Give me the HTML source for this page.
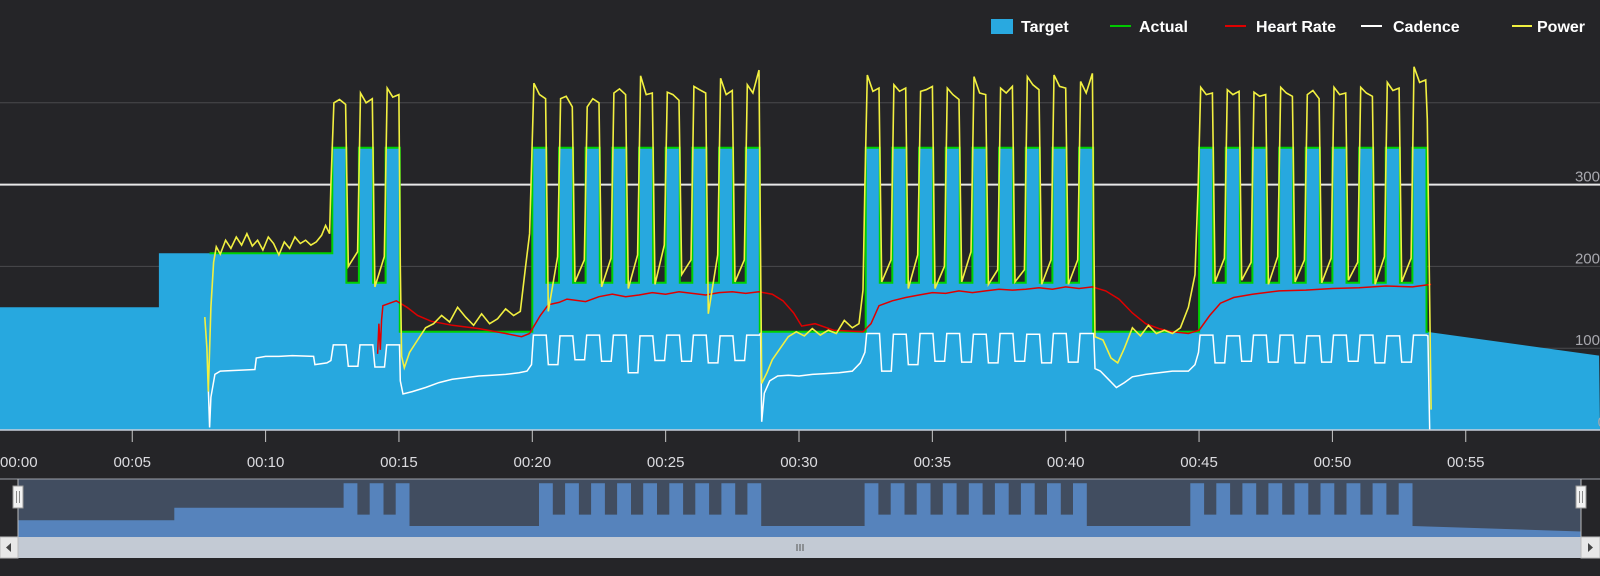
<!DOCTYPE html>
<html><head><meta charset="utf-8"><style>
html,body{margin:0;padding:0;background:#252528;}
svg{display:block;font-family:"Liberation Sans",sans-serif;}
</style></head><body>
<svg id="chart" width="1600" height="576" viewBox="0 0 1600 576" xmlns="http://www.w3.org/2000/svg">
<rect x="0" y="0" width="1600" height="576" fill="#252528"/>
<g id="grid"></g>
<g id="series"></g>
<g id="axes"></g>
<g id="legend">
  <rect x="991" y="19" width="22" height="15" fill="#29a9e0"/>
  <text x="1021" y="32" fill="#fff" font-size="16" font-weight="bold">Target</text>
  <line x1="1110" y1="26" x2="1131" y2="26" stroke="#00c800" stroke-width="2"/>
  <text x="1139" y="32" fill="#fff" font-size="16" font-weight="bold">Actual</text>
  <line x1="1225" y1="26" x2="1246" y2="26" stroke="#e00000" stroke-width="2"/>
  <text x="1256" y="32" fill="#fff" font-size="16" font-weight="bold">Heart Rate</text>
  <line x1="1361" y1="26" x2="1382" y2="26" stroke="#ffffff" stroke-width="2"/>
  <text x="1393" y="32" fill="#fff" font-size="16" font-weight="bold">Cadence</text>
  <line x1="1512" y1="26" x2="1532" y2="26" stroke="#f0f040" stroke-width="2"/>
  <text x="1537" y="32" fill="#fff" font-size="16" font-weight="bold">Power</text>
</g>
<g id="nav"></g>
</svg>
<script>
// ---- data ----
const blockStarts = [12.5, 20, 32.5, 45];
const blockReps = [3, 9, 9, 9];
const onLevel = 345, offLevel = 180, recLevel = 120;
const warmupSteps = [[0,150],[6,216]];
const endRamp = [[53.53,120],[60,91]];
const onDur = 0.53;

const b1Peaks = [[400,404,398],[412,400,405],[418,407,410]];
const b1Low = [200,175];
const b1Pre = [218,212];
const b2Peaks = [[424,410,405],[405,408,395],[395,405,400],[412,417,410],[433,410,412],[413,410,403],[420,416,412],[430,410,415],[422,412,440]];
const b2Low = [145,181,175,173,178,190,142,181];
const b2Pre = [212,208,210,214,226,208,214,208];
const b3Peaks = [[434,414,418],[422,414,418],[414,416,420],[418,410,404],[432,412,410],[418,412,420],[432,422,416],[434,420,418],[426,412,436]];
const b3Low = [181,173,173,181,178,181,178,178];
const b3Pre = [208,214,200,218,196,196,208,208];
const b4Peaks = [[419,410,412],[416,410,414],[413,408,410],[419,412,408],[410,415,405],[419,410,412],[419,412,408],[425,415,418],[444,425,428]];
const b4Low = [181,183,178,181,180,183,178,181];
const b4Pre = [210,205,212,208,210,205,212,210];

const powerWarm = [[7.72,138],[7.8,100],[7.85,47],[7.95,150],[8.05,205],[8.15,224],[8.3,215],[8.5,232],[8.7,222],[8.9,236],[9.1,226],[9.3,240],[9.5,225],[9.7,232],[9.9,220],[10.1,236],[10.3,228],[10.5,214],[10.7,230],[10.9,222],[11.1,236],[11.3,228],[11.5,232],[11.7,226],[11.9,230],[12.1,238],[12.25,250],[12.4,240],[12.45,300]];
const powerRec1 = [[15.05,200],[15.1,90],[15.2,76],[15.4,95],[15.7,110],[16,125],[16.3,130],[16.6,140],[16.9,132],[17.2,150],[17.5,138],[17.8,128],[18.1,142],[18.4,130],[18.7,136],[19,148],[19.3,140],[19.55,145],[19.75,200],[19.9,240]];
const powerRec2 = [[28.55,250],[28.6,57],[28.8,70],[29,86],[29.3,100],[29.6,114],[29.9,120],[30.2,115],[30.5,124],[30.8,116],[31.1,122],[31.4,118],[31.7,134],[32,125],[32.25,130],[32.4,171],[32.47,300]];
const powerRec3 = [[41.05,250],[41.1,114],[41.4,110],[41.7,88],[41.95,82],[42.2,100],[42.5,125],[42.8,115],[43.1,128],[43.4,118],[43.7,122],[44,118],[44.3,125],[44.6,150],[44.85,190],[44.97,300]];
const powerEnd = [[53.56,380],[53.7,25]];

const b1CadH = [104,104,104]; const b1CadL = [78,77];
const b2CadH = [116,115,116,116,115,116,116,115,116]; const b2CadL = [80,86,84,70,85,84,82,85];
const b3CadH = [118,117,118,118,117,118,117,118,118]; const b3CadL = [72,80,84,83,82,84,82,83];
const b4CadH = [116,115,116,116,115,116,116,115,116]; const b4CadL = [82,84,83,82,83,84,82,83];
const cadWarm = [[7.85,52],[7.9,3],[7.95,40],[8.1,68],[8.3,72],[9,73],[9.6,74],[9.65,88],[10,90],[10.5,90],[11,91],[11.8,90],[11.85,80],[12.3,82],[12.45,85]];
const cadRec1 = [[15.05,60],[15.15,44],[15.5,47],[16,52],[16.5,58],[17,62],[17.5,64],[18,66],[18.5,67],[19,68],[19.5,70],[19.8,72],[19.97,80]];
const cadRec2 = [[28.56,118],[28.6,10],[28.7,45],[28.9,60],[29.2,66],[29.6,67],[30,66],[30.5,68],[31,69],[31.5,70],[32,72],[32.3,82],[32.47,95]];
const cadRec3 = [[41.05,118],[41.1,75],[41.3,72],[41.6,62],[41.9,52],[42.2,58],[42.5,65],[43,68],[43.5,70],[44,72],[44.6,72],[44.85,80],[44.98,95]];
const cadEnd = [[53.58,115],[53.65,0]];

const heartRate = [[14.2,93],[14.25,130],[14.3,98],[14.35,135],[14.4,152],[14.9,158],[15.3,150],[15.7,140],[16.2,133],[17,128],[18,124],[19,118],[19.6,114],[19.9,118],[20.3,140],[20.6,153],[21,156],[21.3,160],[22,157],[22.5,163],[23,166],[23.5,163],[24,165],[24.5,168],[25,166],[25.5,169],[26,167],[26.5,165],[27,168],[27.5,169],[28,167],[28.5,169],[29,166],[29.4,158],[29.8,143],[30.1,127],[30.6,130],[31.3,122],[32.4,120],[32.7,130],[33,152],[33.5,158],[34,162],[34.5,165],[35,168],[35.5,167],[36,170],[36.5,168],[37,170],[37.5,172],[38,171],[38.5,172],[39,174],[39.5,172],[40,175],[40.5,173],[41,175],[41.5,170],[42,160],[42.5,143],[43,130],[43.5,124],[44,120],[44.6,118],[45,122],[45.4,140],[45.8,155],[46.3,162],[47,166],[48,170],[49,171],[50,173],[51,174],[52,176],[53,175],[53.7,178]];

const xTicks = [0,5,10,15,20,25,30,35,40,45,50,55];
const xTickLabels = ["00:00","00:05","00:10","00:15","00:20","00:25","00:30","00:35","00:40","00:45","00:50","00:55"];
const yTicks = [0,100,200,300,400];
const yTickLabels = ["0","100","200","300",""];

// ---- scales ----
function X(t){return -1.1 + 26.67*t;}
function Y(v){return 430 - 0.818*v;}
function NX(t){return 18 + t*26.05;}
function NY(v){return 526 + (120 - v)*0.19;}

const NS = "http://www.w3.org/2000/svg";
function mk(tag, attrs, parent){const e=document.createElementNS(NS,tag);for(const k in attrs)e.setAttribute(k,attrs[k]);parent.appendChild(e);return e;}

// target steps
function targetSteps(){
  const s = warmupSteps.map(p=>p.slice());
  blockStarts.forEach((b,i)=>{
    for(let k=0;k<blockReps[i];k++){
      s.push([b+k,onLevel]);
      if(k<blockReps[i]-1) s.push([b+k+onDur,offLevel]);
    }
    s.push([b+blockReps[i]-1+onDur,recLevel]);
  });
  s.pop();
  return s;
}
const steps = targetSteps();
function stepPoints(fx,fy,startT){
  const pts=[];
  for(let i=0;i<steps.length;i++){
    const t0=Math.max(steps[i][0],startT||0);
    const t1=i<steps.length-1?steps[i+1][0]:endRamp[0][0];
    if(t1<=t0) continue;
    pts.push([fx(t0),fy(steps[i][1])],[fx(t1),fy(steps[i][1])]);
  }
  endRamp.forEach(p=>pts.push([fx(p[0]),fy(p[1])]));
  return pts;
}

function blockPower(start, peaks, lows, pres, prev){
  const pts=[];
  for(let k=0;k<peaks.length;k++){
    const r=start+k;
    pts.push([r+0.06,peaks[k][0]],[r+0.27,peaks[k][1]],[r+0.5,peaks[k][2]]);
    if(k<peaks.length-1) pts.push([r+0.6,lows[k]],[r+0.95,pres[k]]);
  }
  return pts;
}
function blockCad(start, hs, ls){
  const pts=[];
  for(let k=0;k<hs.length;k++){
    const r=start+k;
    pts.push([r+0.04,hs[k]],[r+0.52,hs[k]]);
    if(k<hs.length-1) pts.push([r+0.6,ls[k]],[r+0.96,ls[k]]);
  }
  return pts;
}
const powerAll = [].concat(powerWarm, blockPower(12.5,b1Peaks,b1Low,b1Pre), powerRec1, blockPower(20,b2Peaks,b2Low,b2Pre), powerRec2, blockPower(32.5,b3Peaks,b3Low,b3Pre), powerRec3, blockPower(45,b4Peaks,b4Low,b4Pre), powerEnd);
const cadAll = [].concat(cadWarm, blockCad(12.5,b1CadH,b1CadL), cadRec1, blockCad(20,b2CadH,b2CadL), cadRec2, blockCad(32.5,b3CadH,b3CadL), cadRec3, blockCad(45,b4CadH,b4CadL), cadEnd);

function toPath(data){return data.map((p,i)=>(i?'L':'M')+X(p[0]).toFixed(1)+' '+Y(p[1]).toFixed(1)).join(' ');}

// grid
const grid=document.getElementById('grid');
yTicks.forEach((v,i)=>{
  if(v===0) return;
  const l=mk('line',{x1:0,x2:1600,y1:Y(v),y2:Y(v),stroke:v===300?'#e8e8e8':'#4a4a4c','stroke-width':v===300?2:1},grid);
  
  
});

// series
const ser=document.getElementById('series');
const tp=stepPoints(X,Y,0);
const tgt=mk('path',{d:'M'+X(0)+' '+Y(0)+' '+tp.map(p=>'L'+p[0].toFixed(1)+' '+p[1].toFixed(1)).join(' ')+' L1600 '+Y(0)+' Z',fill:'#27a8df'},ser);


const ap=stepPoints(X,Y,7.9).filter(p=>p[0]<=X(53.6));
const act=mk('path',{d:ap.map((p,i)=>(i?'L':'M')+p[0].toFixed(1)+' '+p[1].toFixed(1)).join(' ')+' L'+X(53.6)+' '+Y(120),fill:'none',stroke:'#00d000','stroke-width':2},ser);


const cad=mk('path',{d:toPath(cadAll),fill:'none',stroke:'#ffffff','stroke-width':1.5},ser);


const hr=mk('path',{d:toPath(heartRate),fill:'none',stroke:'#e00000','stroke-width':1.5},ser);


const pw=mk('path',{d:toPath(powerAll),fill:'none',stroke:'#f2f040','stroke-width':1.6},ser);



// axes
const ax=document.getElementById('axes');
const al=mk('line',{x1:0,x2:1600,y1:430,y2:430,stroke:'#c8d0dc','stroke-width':1.5},ax);


xTicks.forEach((t,i)=>{
  const tk=mk('line',{x1:X(t),x2:X(t),y1:430,y2:442,stroke:'#c8c8c8'},ax);
  
  
  const lb=mk('text',{x:i===0?0:X(t),y:467,fill:'#dcdce0','font-size':15,'text-anchor':i===0?'start':'middle'},ax);
  lb.textContent=xTickLabels[i];
  
  
});
yTicks.forEach((v,i)=>{
  if(!yTickLabels[i]) return;
  const lb=mk('text',{x:v===0?1606:1600,y:Y(v)-3,fill:'#a8a8ae','font-size':15,'text-anchor':'end'},ax);
  lb.textContent=yTickLabels[i];
  
  
});

// navigator
const nav=document.getElementById('nav');
const nb=mk('rect',{x:18,y:479,width:1563,height:58,fill:'#414d60'},nav);


const np=stepPoints(NX,NY,0);
const ns=mk('path',{d:'M'+NX(0)+' 537 '+np.map(p=>'L'+p[0].toFixed(1)+' '+p[1].toFixed(1)).join(' ')+' L1581 537 Z',fill:'#5683bc'},nav);


const nt=mk('line',{x1:0,x2:1600,y1:479,y2:479,stroke:'#9aa0a8'},nav);


[18,1581].forEach((hx,i)=>{
  const g=mk('g',{},nav);
  
  
  mk('line',{x1:hx,x2:hx,y1:479,y2:537,stroke:'#bbb'},g);
  mk('rect',{x:hx-5,y:486,width:10,height:22,fill:'#f2f2f2',stroke:'#999'},g);
  mk('line',{x1:hx-1.5,x2:hx-1.5,y1:491,y2:503,stroke:'#888'},g);
  mk('line',{x1:hx+1.5,x2:hx+1.5,y1:491,y2:503,stroke:'#888'},g);
});
const sb=mk('rect',{x:0,y:537,width:1600,height:21,fill:'#c3cad4'},nav);


const lbt=mk('rect',{x:0,y:537,width:18,height:21,fill:'#e8e8e8',stroke:'#bbb'},nav);


mk('path',{d:'M11 543 L6 547.5 L11 552 Z',fill:'#444'},nav);
const rbt=mk('rect',{x:1581,y:537,width:19,height:21,fill:'#e8e8e8',stroke:'#bbb'},nav);


mk('path',{d:'M1588 543 L1593 547.5 L1588 552 Z',fill:'#444'},nav);
[-3,0,3].forEach(d=>{
  const gl=mk('line',{x1:800+d,x2:800+d,y1:544,y2:551,stroke:'#555'},nav);
  
  
});
</script>
</body></html>
